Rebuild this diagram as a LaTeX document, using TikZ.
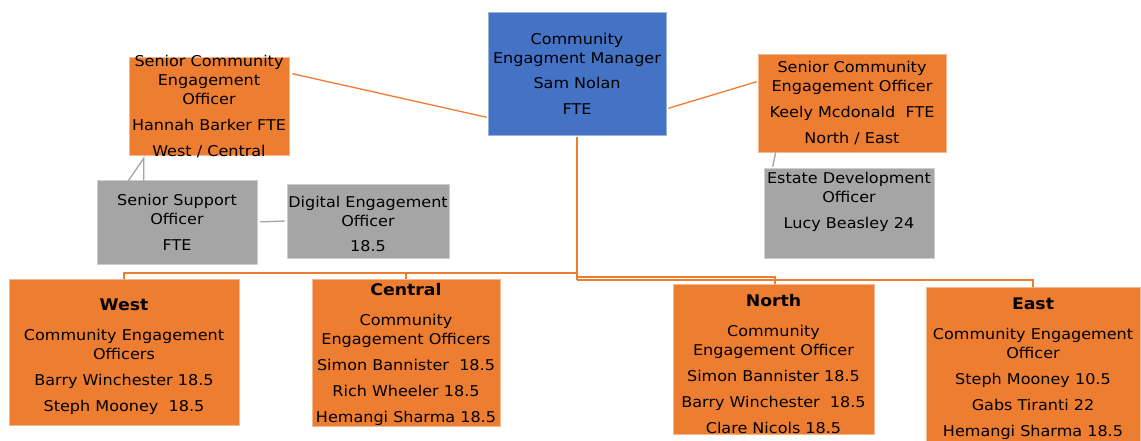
\documentclass[tikz,border=0pt]{standalone}
\usepackage{fontspec}
\setmainfont{DejaVu Sans}[FakeStretch=1.08]
\usetikzlibrary{calc}
\definecolor{cor}{HTML}{ED7D31}
\definecolor{cblue}{HTML}{4472C4}
\definecolor{cgray}{HTML}{A5A5A5}
\newcommand{\hd}[1]{{\fontsize{16}{19}\selectfont\bfseries #1}\\[11pt]}
\begin{document}
\begin{tikzpicture}[x=1pt,y=-1pt,
  box/.style={inner sep=0pt, align=center, text=black, font=\fontsize{14.85}{19}\selectfont},
  obox/.style={box, fill=cor, draw=cor!55!white, line width=0.6pt},
  bbox/.style={box, fill=cblue, draw=cblue!55!white, line width=0.6pt},
  gbox/.style={box, fill=cgray, draw=cgray!55!white, line width=0.6pt},
  oline/.style={draw=cor, line width=1.3pt},
  gline/.style={draw=cgray, line width=1.3pt}]
\clip (0,0) rectangle (1141,441);
\fill[white] (0,0) rectangle (1141,441);
% top level
\node[bbox, minimum width=178pt, minimum height=123pt] (mgr) at (577,73.5)
  {Community\\Engagment Manager\\[6pt]Sam Nolan\\[7pt]FTE};
\node[obox, minimum width=160pt, minimum height=98pt] (sl) at (209,106) {};
\node[box] (slt) at (209,107)
  {Senior Community\\Engagement\\Officer\\[7pt]Hannah Barker FTE\\[7pt]West / Central};
\node[obox, minimum width=188pt, minimum height=98pt] (sr) at (852,103)
  {Senior Community\\Engagement Officer\\[7pt]Keely Mcdonald~~FTE\\[7pt]North / East};
% support
\node[gbox, minimum width=160pt, minimum height=84pt] (sup) at (177,222)
  {Senior Support\\Officer\\[7pt]FTE};
\node[gbox, minimum width=162pt, minimum height=74pt] (dig) at (368,221) {};
\node[box] (digt) at (368,224) {Digital Engagement\\Officer\\[6pt]18.5};
\node[gbox, minimum width=170pt, minimum height=90pt] (est) at (849,213) {};
\node[box] (estt) at (849,202) {Estate Development\\Officer\\[7pt]Lucy Beasley 24};
% areas
\node[obox, minimum width=230pt, minimum height=146pt] (west) at (124,352) {};
\node[box] (westt) at (124,356.5)
  {\hd{West}Community Engagement\\Officers\\[7pt]Barry Winchester 18.5\\[7pt]Steph Mooney~~18.5};
\node[obox, minimum width=188pt, minimum height=147pt] (cen) at (406,352.5) {};
\node[box] (cent) at (406,354.5)
  {\hd{Central}Community\\Engagement Officers\\[7pt]Simon Bannister~~18.5\\[7pt]Rich Wheeler 18.5\\[7pt]Hemangi Sharma 18.5};
\node[obox, minimum width=201pt, minimum height=150pt] (nor) at (773.5,359) {};
\node[box] (nort) at (773.5,364)
  {\hd{North}Community\\Engagement Officer\\[7pt]Simon Bannister 18.5\\[7pt]Barry Winchester~~18.5\\[7pt]Clare Nicols 18.5};
\node[obox, minimum width=214pt, minimum height=163pt] (east) at (1033,368.5) {};
\node[box] (eastt) at (1033,369)
  {\hd{East}Community Engagement\\Officer\\[7pt]Steph Mooney 10.5\\[7pt]Gabs Tiranti 22\\[7pt]Hemangi Sharma 18.5};
% connectors
\draw[oline] ([xshift=3pt,yshift=-17pt]sl.north east) -- ([xshift=-1pt,yshift=18pt]mgr.south west);
\draw[oline] ([xshift=2pt,yshift=27pt]mgr.south east) -- ([xshift=-1pt,yshift=-28pt]sr.north west);
\coordinate (jl) at (577,273);
\coordinate (jn) at (577,277);
\coordinate (je) at (577,280);
\draw[oline] ([yshift=-2pt]mgr.south) -- (je);
\draw[oline] (jl) -| (west.north);
\draw[oline] (jl -| cen.north) -- (cen.north);
\draw[oline] (jn) -| ([xshift=1.5pt]nor.north);
\draw[oline] (je) -| (east.north);
\draw[gline] ([xshift=31pt,yshift=-2pt]sup.north west) -- ([xshift=15pt,yshift=-3pt]sl.south west) -- ([xshift=47pt,yshift=-2pt]sup.north west);
\draw[gline, shorten <=3pt, shorten >=2pt] (sup.east) -- (dig.west);
\draw[gline] ([xshift=18pt]sr.south west) -- ([xshift=9pt,yshift=1pt]est.north west);
\end{tikzpicture}
\end{document}
